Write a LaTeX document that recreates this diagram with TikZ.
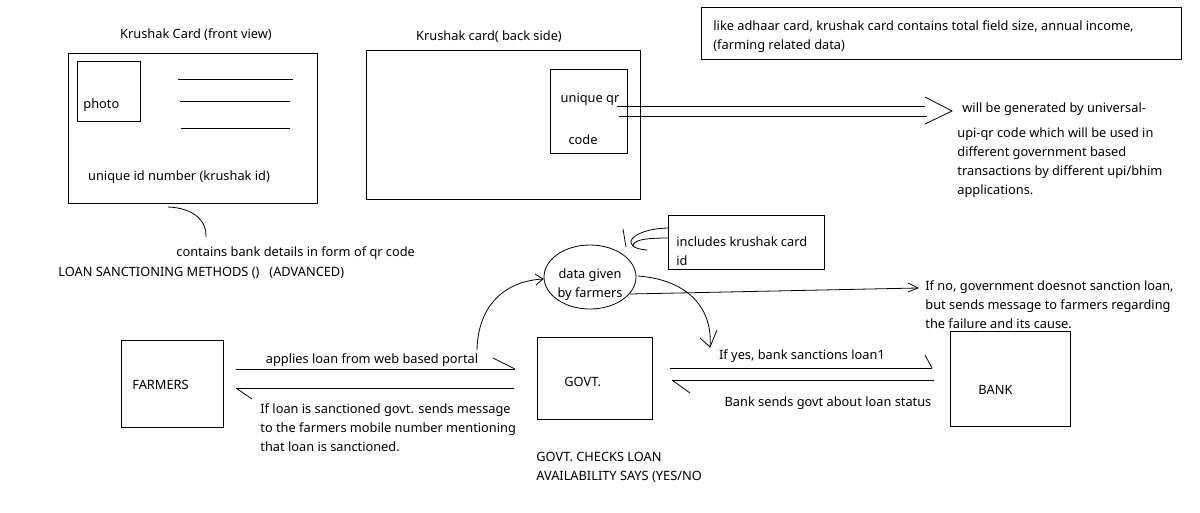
\documentclass[tikz,border=0pt]{standalone}
\usepackage{fontspec}
\setmainfont{Noto Sans}
\usetikzlibrary{shapes.geometric}
\begin{document}
\begin{tikzpicture}[x=1pt,y=-1pt,line width=0.8pt,
  txt/.style={font=\fontsize{12.8}{19}\selectfont,inner sep=0pt,text=black,yshift=-2pt},
  ml/.style={txt,align=left,anchor=north west,yshift=-1pt},
  rbox/.style={draw,inner sep=0pt,outer sep=0pt,anchor=north west}]
\useasboundingbox[fill=white] (0,0) rectangle (1200,512);

% ---------- front card ----------
\node[txt] (fronttitle) at (196,33) {Krushak Card (front view)};
\node[rbox,minimum width=249pt,minimum height=150pt] (front) at (68,53) {};
\node[rbox,minimum width=63pt,minimum height=60pt] (photo) at (77,61) {};
\node[txt,anchor=west] (photolbl) at (83,103) {photo};
\coordinate (l1a) at (178,79);  \coordinate (l1b) at (293,79);
\coordinate (l2a) at (180,101); \coordinate (l2b) at (290,101);
\coordinate (l3a) at (181,128); \coordinate (l3b) at (290,128);
\draw (l1a) -- (l1b);
\draw (l2a) -- (l2b);
\draw (l3a) -- (l3b);
\node[txt] (uid) at (179,175) {unique id number (krushak id)};
\coordinate (c1) at (168,207);
\coordinate (c2) at (206,237);
\draw (c1) .. controls (195,208) and (207,222) .. (c2);
\node[txt,anchor=west] (bankdet) at (176,251) {contains bank details in form of qr code};
\node[txt,anchor=west] (loanm) at (58,271) {LOAN SANCTIONING METHODS ()\ \ \ (ADVANCED)};

% ---------- back card ----------
\node[txt] (backtitle) at (489,35) {Krushak card( back side)};
\node[rbox,minimum width=274pt,minimum height=149pt] (back) at (366,50) {};
\node[rbox,minimum width=77pt,minimum height=84pt] (qr) at (550,69) {};
\node[txt] (qr1) at (590,97) {unique qr};
\node[txt] (qr2) at (583,138) {code};
\coordinate (qa) at (617,106); \coordinate (qb) at (925,106);
\coordinate (qc) at (619,116); \coordinate (qd) at (927,116);
\coordinate (qtip) at (952,111);
\draw (qa) -- (qb);
\draw (qc) -- (qd);
\draw (925,97) -- (qtip) -- (925,124);
\node[txt,anchor=west] (gen1) at (962,107) {will be generated by universal-};
\node[ml] (gen2) at (957,124.5) {upi-qr code which will be used in\\different government based\\transactions by different upi/bhim\\applications.};

% ---------- info box ----------
\node[rbox,minimum width=480pt,minimum height=52pt] (info) at (701,7) {};
\node[ml] (infotxt) at (713,17.5) {like adhaar card, krushak card contains total field size, annual income,\\(farming related data)};

% ---------- includes box ----------
\node[rbox,minimum width=156pt,minimum height=54pt] (incl) at (668,215) {};
\node[ml] (incltxt) at (676,233.5) {includes krushak card\\id};
\draw (incl.west |- 0,228) .. controls (630,229) and (618,248) .. (647,250);
\draw (incl.west |- 0,238) .. controls (645,238) and (633,240) .. (633,246);
\draw (623,229) -- (626,247);

% ---------- data ellipse ----------
\node[ellipse,draw,minimum width=92pt,minimum height=64pt,inner sep=0pt] (data) at (590,277) {};
\node[txt,align=center] (datatxt) at (590,283) {data given\\by farmers};

% ---------- main boxes ----------
\node[rbox,minimum width=102pt,minimum height=87pt] (farmers) at (121,340) {};
\node[txt,anchor=west] (farmerslbl) at (132,383) {FARMERS};
\node[rbox,minimum width=115pt,minimum height=82pt] (govt) at (537,337) {};
\node[txt,anchor=west] (govtlbl) at (564,380) {GOVT.};
\node[rbox,minimum width=120pt,minimum height=95pt] (bank) at (950,331) {};
\node[txt,anchor=west] (banklbl) at (978,388) {BANK};

% farmers <-> govt
\coordinate (fa) at (236,369); \coordinate (ga) at (515,369);
\draw (fa) -- (ga);
\draw (493,358) -- (ga);
\node[txt] (applies) at (372,358) {applies loan from web based portal};
\coordinate (gb) at (514,388); \coordinate (fb) at (236,388);
\draw (gb) -- (fb);
\draw (fb) -- (252,399);
\node[ml] (sanc) at (260,400.5) {If loan is sanctioned govt. sends message\\to the farmers mobile number mentioning\\that loan is sanctioned.};

% govt <-> bank
\coordinate (gc) at (670,368); \coordinate (bc) at (932,368);
\draw (gc) -- (bc);
\draw (925,355) -- (bc);
\node[txt] (ifyes) at (802,354) {If yes, bank sanctions loan1};
\coordinate (bd) at (934,380); \coordinate (gd) at (672,380);
\draw (bd) -- (gd);
\draw (gd) -- (690,393);
\node[txt] (bsends) at (828,401) {Bank sends govt about loan status};

\node[ml] (checks) at (536,448.5) {GOVT. CHECKS LOAN\\AVAILABILITY SAYS (YES/NO};

% curved arrows around ellipse
\coordinate (ap) at (477,350);
\coordinate (dl) at (543,279);
\draw (ap) .. controls (478,305) and (505,281) .. (dl);
\draw (535,274) -- (dl) -- (536,285);
\coordinate (dr) at (638,276);
\coordinate (dn) at (710,347);
\draw (dr) .. controls (690,280) and (713,310) .. (dn);
\draw (700,338) -- (dn) -- (717,330);

% if no
\coordinate (de) at (630,294);
\coordinate (notip) at (918,288);
\draw (de) -- (notip);
\draw (908,283) -- (notip) -- (908,292);
\node[ml] (ifno) at (925,277.5) {If no, government doesnot sanction loan,\\but sends message to farmers regarding\\the failure and its cause.};
\end{tikzpicture}
\end{document}
